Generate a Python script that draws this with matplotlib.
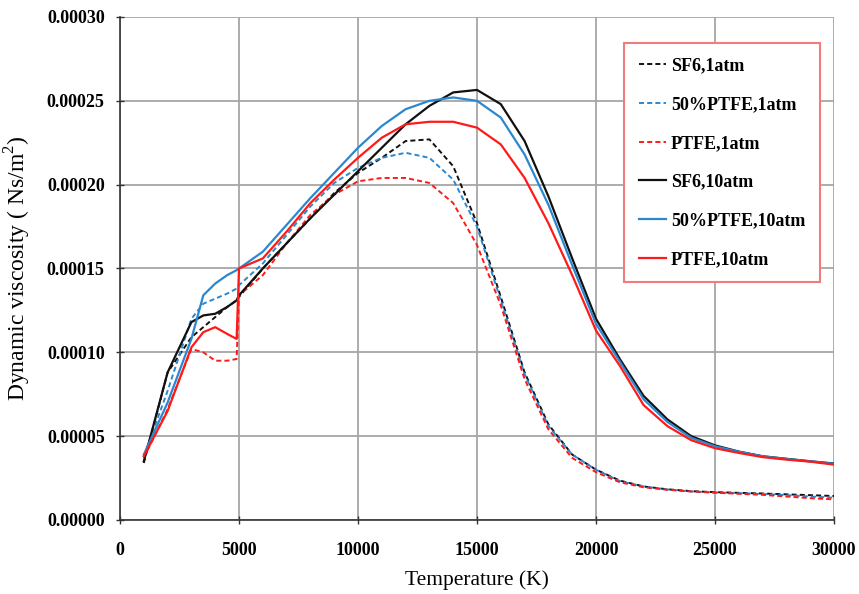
import matplotlib
matplotlib.use("Agg")
import matplotlib.pyplot as plt
import numpy as np
from matplotlib.ticker import FormatStrFormatter

plt.rcParams["mathtext.fontset"] = "custom"
plt.rcParams["mathtext.rm"] = "Liberation Serif"

# temperature grid (K)
T = [1000, 2000, 3000, 3500, 4000, 4500, 4900, 5000, 6000, 7000, 8000, 9000,
     10000, 11000, 12000, 13000, 14000, 15000, 16000, 17000, 18000, 19000,
     20000, 21000, 22000, 23000, 24000, 25000, 26000, 27000, 28000, 29000, 30000]

# dynamic viscosity, in 1e-6 Ns/m2
sf6_1atm = [34, 88, 109, 115, 121, 127, 131, 133, 150, 165, 180, 195,
            207, 216, 226, 227, 211, 177, 133, 88, 57, 39,
            30, 23.5, 20, 18.3, 17.2, 16.6, 16.2, 15.8, 15.3, 14.8, 14.3]
ptfe50_1atm = [38, 77, 120, 129, 132, 135, 138, 140, 153, 170, 187, 201,
               210, 216, 219, 216, 203, 175, 131, 87, 56, 39,
               30, 23.2, 20, 18.2, 17, 16.4, 16, 15.5, 14.8, 14, 13.3]
ptfe_1atm = [37, 66, 102, 100, 95, 95, 96, 134, 146, 165, 182, 194,
             202, 204, 204, 201, 189, 164, 128, 84, 54, 37,
             28.5, 22.5, 19.5, 18, 17, 16.3, 15.6, 15, 14, 13, 12.3]
sf6_10atm = [35, 88, 118, 122, 123, 127, 131, 134, 150, 165, 180, 194,
             208, 222, 236, 247, 255, 256.5, 248, 226, 193, 156,
             120, 96, 74, 60, 50, 44.5, 40.8, 38, 36.5, 35, 33.7]
ptfe50_10atm = [39, 70, 108, 134, 141, 146, 149, 150, 160, 176, 192, 207,
                222, 235, 245, 250, 252, 250, 240, 218, 188, 152,
                117, 94.5, 72, 58.5, 49, 44, 40.7, 38, 36.4, 35, 33.5]
ptfe_10atm = [38, 65, 103, 112, 115, 111, 108, 150, 156, 172, 189, 203,
              216, 228, 236, 237.5, 237.5, 234, 224, 204, 177, 146,
              113, 92, 68.5, 56, 47.6, 42.8, 40, 37.5, 36, 34.8, 33]

black = "#111111"
blue = "#2b88d0"
red = "#ff1a1a"
dash = (0, (2.6, 1.6))

fig = plt.figure(figsize=(8.59, 5.94), dpi=100)
ax = fig.add_axes([0.1397, 0.1246, 0.8312, 0.8468])

T = np.array(T)
ax.plot(T, np.array(sf6_1atm) * 1e-6, color=black, lw=1.4, ls=dash, label="SF6,1atm")
ax.plot(T, np.array(ptfe50_1atm) * 1e-6, color=blue, lw=1.4, ls=dash, label="50%PTFE,1atm")
ax.plot(T, np.array(ptfe_1atm) * 1e-6, color=red, lw=1.4, ls=dash, label="PTFE,1atm")
ax.plot(T, np.array(sf6_10atm) * 1e-6, color=black, lw=1.6, label="SF6,10atm")
ax.plot(T, np.array(ptfe50_10atm) * 1e-6, color=blue, lw=1.6, label="50%PTFE,10atm")
ax.plot(T, np.array(ptfe_10atm) * 1e-6, color=red, lw=1.6, label="PTFE,10atm")

ax.set_xlim(0, 30000)
ax.set_ylim(0, 0.0003)
ax.set_xticks(np.arange(0, 30001, 5000))
ax.set_yticks(np.arange(0, 0.00030001, 0.00005))
ax.yaxis.set_major_formatter(FormatStrFormatter("%.5f"))
ax.grid(True, color="#a6a6a6", lw=1.3)
ax.set_axisbelow(True)
for s in ["top", "right"]:
    ax.spines[s].set_visible(False)
for s in ["left", "bottom"]:
    ax.spines[s].set_color("#333333")
    ax.spines[s].set_linewidth(1.2)
ax.tick_params(direction="inout", length=6, width=1, color="#333333")
ax.tick_params(axis="x", pad=13)
ax.tick_params(axis="y", pad=8)
for lab in ax.get_xticklabels() + ax.get_yticklabels():
    lab.set_fontfamily("Liberation Serif")
    lab.set_fontweight("bold")
    lab.set_fontsize(13)

ax.set_xlabel("Temperature (K)", fontfamily="Liberation Serif", fontsize=15.5, labelpad=8)
ax.set_ylabel("Dynamic viscosity ( Ns/m$^2$)", fontfamily="Liberation Serif", fontsize=17, labelpad=10)

leg = ax.legend(loc="upper left", bbox_to_anchor=(0.706, 0.948), borderaxespad=0,
                fancybox=False, edgecolor="#f07c7c", framealpha=1,
                handlelength=1.5, handletextpad=0.3, labelspacing=1.2, borderpad=0.8,
                prop={"family": "Liberation Serif", "weight": "bold", "size": 13})
leg.get_frame().set_linewidth(1.5)

plt.savefig("out.png", dpi=100)
